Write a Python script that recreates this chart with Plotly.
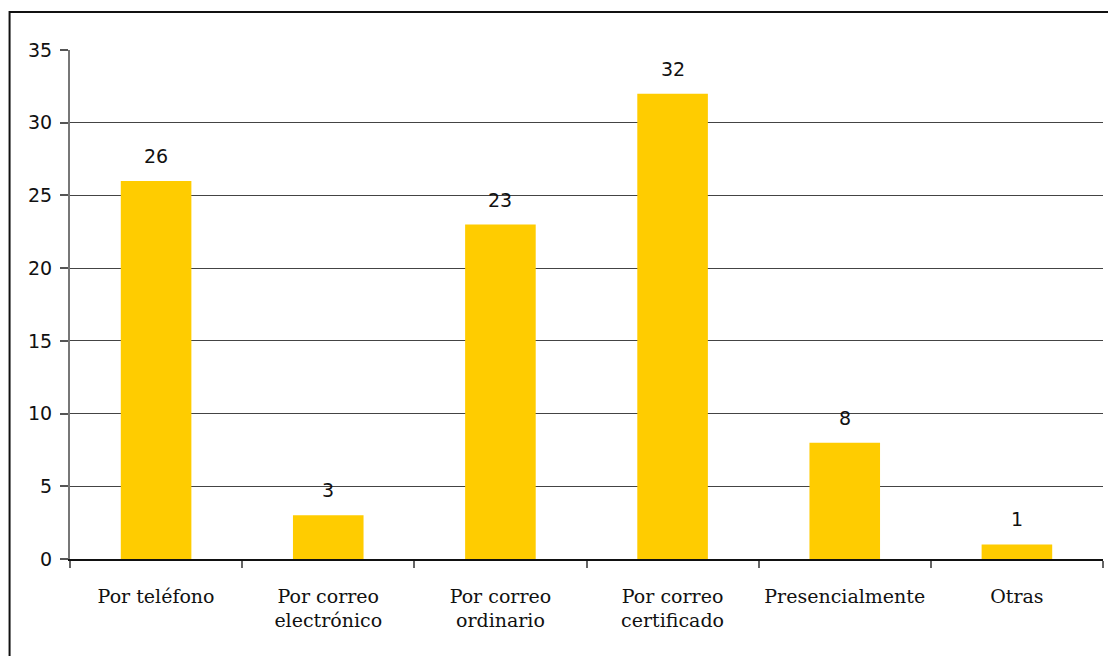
import plotly.graph_objects as go

categories = ["Por teléfono", "Por correo<br>electrónico", "Por correo<br>ordinario",
              "Por correo<br>certificado", "Presencialmente", "Otras"]
values = [26, 3, 23, 32, 8, 1]
y_ticks = [0, 5, 10, 15, 20, 25, 30, 35]

fig = go.Figure()
fig.add_trace(go.Bar(
    x=categories, y=values,
    marker=dict(color="#FFCC00", line=dict(width=0)),
    width=0.41,
    hoverinfo="skip",
))

# value labels above each bar
for c, v in zip(categories, values):
    fig.add_annotation(x=c, y=v, text=str(v), showarrow=False,
                       yanchor="bottom", yshift=12,
                       font=dict(family="DejaVu Sans", size=19, color="#111111"))

# outer frame around the chart
fig.add_shape(type="rect", xref="paper", yref="paper",
              x0=-0.0585, x1=1.2, y0=-0.5, y1=1.0747,
              line=dict(color="#111111", width=2), layer="below")

fig.update_layout(
    width=1108, height=656,
    margin=dict(l=70, r=5, t=50, b=97),
    paper_bgcolor="white", plot_bgcolor="white",
    showlegend=False,
    xaxis=dict(
        type="category", tickson="boundaries",
        ticks="outside", ticklen=7, tickcolor="#666666", tickwidth=2,
        showline=True, linecolor="#111111", linewidth=1.5,
        showgrid=False, tickangle=0,
        tickfont=dict(family="DejaVu Serif", size=19, color="#111111"),
        ticklabelstandoff=19,
        range=[-0.5, 5.5], automargin=False,
    ),
    yaxis=dict(
        range=[0, 35], tickvals=y_ticks,
        ticks="outside", ticklen=8, tickcolor="#555555", tickwidth=1.5,
        showline=True, linecolor="#777777", linewidth=2,
        showgrid=True, gridcolor="#444444", gridwidth=1,
        zeroline=False,
        tickfont=dict(family="DejaVu Sans", size=19, color="#111111"),
        ticklabelstandoff=4, automargin=False,
    ),
)

fig.write_html("out.html")
